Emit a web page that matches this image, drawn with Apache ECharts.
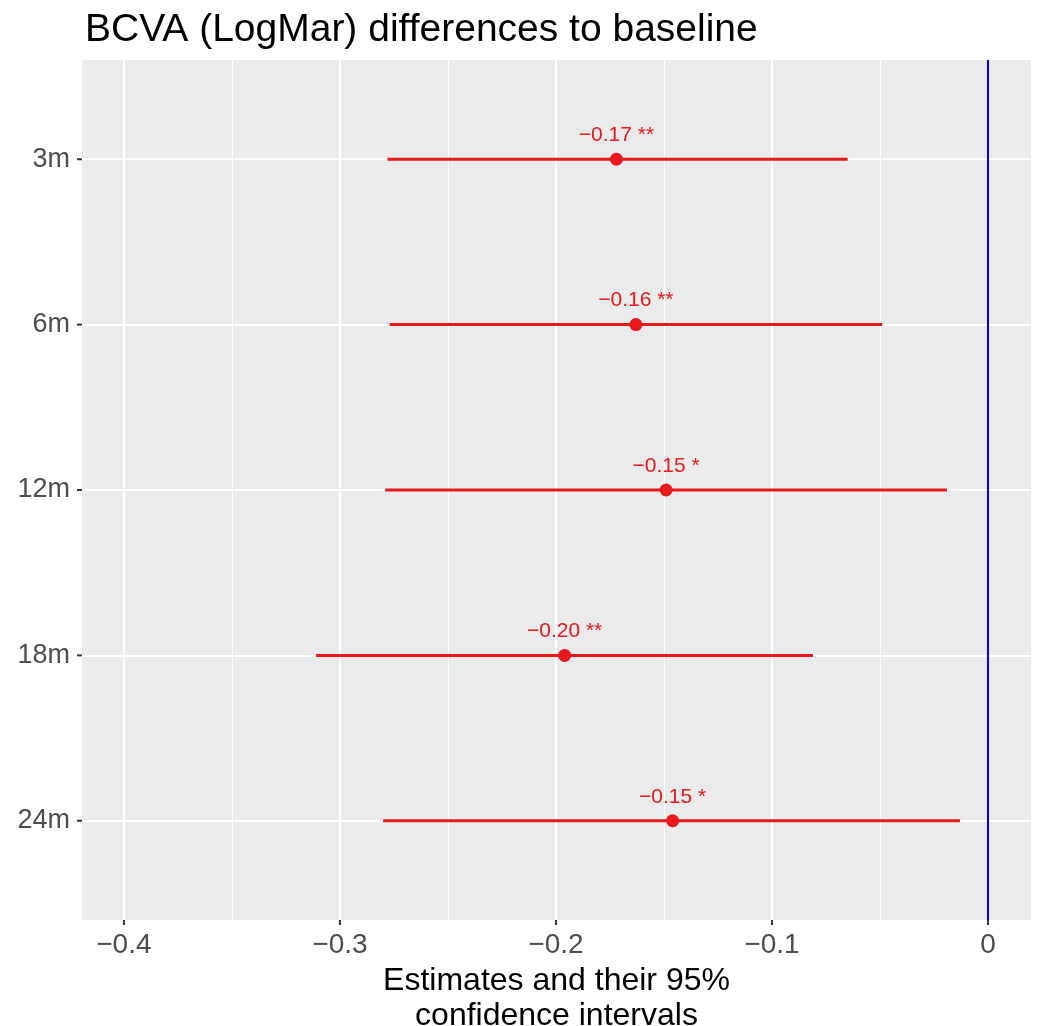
<!DOCTYPE html>
<html>
<head>
<meta charset="utf-8">
<script src="https://cdn.jsdelivr.net/npm/echarts@6/dist/echarts.min.js"></script>
<style>
  html, body { margin: 0; padding: 0; background: #fff; }
  #chart { width: 1037px; height: 1026px; }
</style>
</head>
<body>
<div id="chart"></div>
<script>
  // data
  var periods = ['3m', '6m', '12m', '18m', '24m'];
  var estimates = [-0.172, -0.163, -0.149, -0.196, -0.146];
  var ciLow = [-0.278, -0.277, -0.279, -0.311, -0.280];
  var ciHigh = [-0.065, -0.049, -0.019, -0.081, -0.013];
  var pointLabels = ['\u22120.17 **', '\u22120.16 **', '\u22120.15 *', '\u22120.20 **', '\u22120.15 *'];
  var xMajor = [-0.4, -0.3, -0.2, -0.1, 0];
  var xMinor = [-0.35, -0.25, -0.15, -0.05];
  var yPos = [1, 2, 3, 4, 5];

  var chart = echarts.init(document.getElementById('chart'));
  var font = 'Liberation Sans, Arial, sans-serif';

  var rows = periods.map(function (p, i) {
    return [ciLow[i], ciHigh[i], yPos[i], estimates[i]];
  });

  // grid lines drawn as markLines so they can sit on exact values
  var gridLines = [];
  xMinor.forEach(function (v) {
    gridLines.push({ xAxis: v, lineStyle: { color: '#fff', width: 1, type: 'solid' } });
  });
  xMajor.forEach(function (v) {
    gridLines.push({ xAxis: v, lineStyle: { color: '#fff', width: 2, type: 'solid' } });
  });
  yPos.forEach(function (v) {
    gridLines.push({ yAxis: v, lineStyle: { color: '#fff', width: 2, type: 'solid' } });
  });
  gridLines.push({ xAxis: 0, lineStyle: { color: '#0000FF', width: 2, type: 'solid' } });

  // small outside ticks, ggplot style
  var tickData = xMajor.map(function (v) { return [v, 'x']; })
    .concat(yPos.map(function (v) { return [v, 'y']; }));

  chart.setOption({
    animation: false,
    title: {
      text: 'BCVA (LogMar) differences to baseline',
      left: 80, top: 6,
      textStyle: { fontFamily: font, fontSize: 39, fontWeight: 'normal', color: '#000' }
    },
    grid: {
      left: 82, right: 6, top: 60, bottom: 106,
      containLabel: false, outerBoundsMode: 'none',
      backgroundColor: '#EBEBEB', show: true, borderWidth: 0
    },
    xAxis: {
      type: 'value', min: -0.4194, max: 0.0199,
      name: 'Estimates and their 95%\nconfidence intervals',
      nameLocation: 'middle', nameGap: 35,
      nameTextStyle: { fontFamily: font, fontSize: 32, color: '#000', lineHeight: 35, verticalAlign: 'top' },
      axisLine: { show: false },
      axisTick: { show: false },
      axisLabel: {
        customValues: xMajor, fontFamily: font, fontSize: 28, color: '#4D4D4D', margin: 11,
        formatter: function (v) { return v === 0 ? '0' : String(v).replace('-', '\u2212'); }
      },
      splitLine: { show: false }
    },
    yAxis: {
      type: 'value', min: 0.4, max: 5.6, inverse: true,
      axisLine: { show: false },
      axisTick: { show: false },
      axisLabel: {
        customValues: yPos, fontFamily: font, fontSize: 27, color: '#4D4D4D', margin: 12,
        formatter: function (v) { return periods[Math.round(v) - 1] || ''; }
      },
      splitLine: { show: false }
    },
    series: [
      {
        type: 'custom',
        data: rows,
        z: 3,
        renderItem: function (params, api) {
          var a = api.coord([api.value(0), api.value(2)]);
          var b = api.coord([api.value(1), api.value(2)]);
          return {
            type: 'line',
            shape: { x1: a[0], y1: a[1], x2: b[0], y2: b[1] },
            style: { stroke: '#E8191C', lineWidth: 3 }
          };
        },
        markLine: {
          silent: true, symbol: 'none', label: { show: false },
          data: gridLines,
          z: 1
        }
      },
      {
        type: 'custom',
        data: tickData,
        clip: false,
        silent: true,
        z: 2,
        renderItem: function (params, api) {
          var cs = params.coordSys;
          var v = api.value(0);
          var shape;
          if (tickData[params.dataIndex][1] === 'x') {
            var px = api.coord([v, 1])[0];
            var yb = cs.y + cs.height;
            shape = { x1: px, y1: yb, x2: px, y2: yb + 5 };
          } else {
            var py = api.coord([0, v])[1];
            shape = { x1: cs.x - 5, y1: py, x2: cs.x, y2: py };
          }
          return { type: 'line', shape: shape, style: { stroke: '#333333', lineWidth: 2 } };
        }
      },
      {
        type: 'scatter',
        z: 4,
        symbolSize: 13,
        itemStyle: { color: '#E8191C', opacity: 1 },
        data: estimates.map(function (e, i) { return [e, yPos[i]]; }),
        label: {
          show: true, position: 'top', distance: 7,
          fontFamily: font, fontSize: 21, color: '#E8191C',
          formatter: function (p) { return pointLabels[p.dataIndex]; }
        }
      }
    ]
  });
</script>
</body>
</html>
